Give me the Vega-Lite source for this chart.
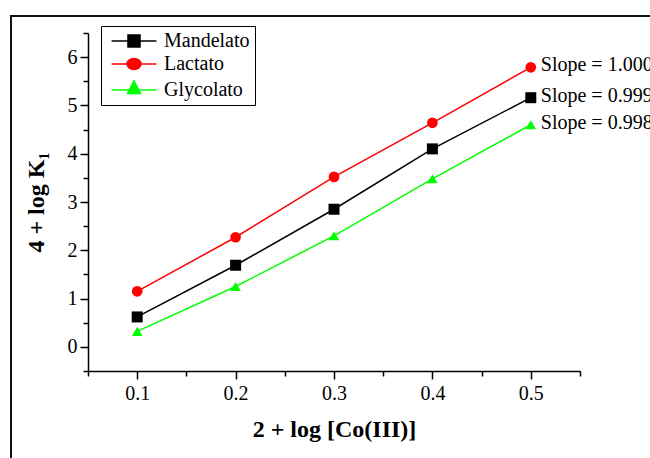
{
  "$schema": "https://vega.github.io/schema/vega-lite/v6.json",
  "width": 640,
  "height": 443,
  "autosize": {"type": "none"},
  "padding": {"left": 11, "top": 16, "right": 0, "bottom": 0},
  "background": "white",
  "config": {
    "view": {"stroke": "#111111", "strokeWidth": 2},
    "font": "Liberation Serif",
    "axis": {
      "domainColor": "black", "domainWidth": 1.5,
      "tickColor": "black", "tickWidth": 1.5,
      "labelColor": "black", "labelFont": "Liberation Serif", "labelFontSize": 20,
      "titleFont": "Liberation Serif", "titleColor": "black", "titleFontWeight": "bold", "titleFontSize": 24,
      "grid": false
    },
    "legend": {
      "orient": "none", "legendX": 90, "legendY": 10, "title": null,
      "strokeColor": "black", "fillColor": "white", "padding": 5,
      "labelFont": "Liberation Serif", "labelFontSize": 20, "labelColor": "black",
      "symbolSize": 196, "symbolOffset": 18, "labelOffset": 20, "rowPadding": 3, "symbolStrokeWidth": 1.5
    }
  },
  "data": {"values": [
    {"series": "Mandelato", "x": 0.1, "y": 0.62},
    {"series": "Mandelato", "x": 0.2, "y": 1.69},
    {"series": "Mandelato", "x": 0.3, "y": 2.85},
    {"series": "Mandelato", "x": 0.4, "y": 4.10},
    {"series": "Mandelato", "x": 0.5, "y": 5.16, "note": "Slope = 0.999"},
    {"series": "Lactato", "x": 0.1, "y": 1.15},
    {"series": "Lactato", "x": 0.2, "y": 2.27},
    {"series": "Lactato", "x": 0.3, "y": 3.52},
    {"series": "Lactato", "x": 0.4, "y": 4.64},
    {"series": "Lactato", "x": 0.5, "y": 5.79, "note": "Slope = 1.000"},
    {"series": "Glycolato", "x": 0.1, "y": 0.32},
    {"series": "Glycolato", "x": 0.2, "y": 1.25},
    {"series": "Glycolato", "x": 0.3, "y": 2.30},
    {"series": "Glycolato", "x": 0.4, "y": 3.48},
    {"series": "Glycolato", "x": 0.5, "y": 4.60, "note": "Slope = 0.998"}
  ]},
  "resolve": {"axis": {"x": "independent", "y": "independent"}},
  "layer": [
    {
      "mark": {"type": "line", "strokeWidth": 1.5},
      "encoding": {
        "x": {"field": "x", "type": "quantitative",
          "scale": {"domain": [0.05, 0.55], "range": [77, 569], "nice": false, "zero": false},
          "axis": {"orient": "bottom", "offset": -88, "values": [0.1, 0.2, 0.3, 0.4, 0.5], "format": ".1f",
            "tickSize": 8, "labelPadding": 4, "title": "2 + log [Co(III)]", "titlePadding": 14,
            "labelFlush": false, "labelOverlap": false}},
        "y": {"field": "y", "type": "quantitative",
          "scale": {"domain": [-0.5, 6.5], "range": [355, 17], "nice": false, "zero": false},
          "axis": {"orient": "left", "offset": -77, "values": [0, 1, 2, 3, 4, 5, 6], "format": "d",
            "tickSize": 8, "labelPadding": 3, "title": "4 + log K₁", "titlePadding": 19,
            "labelFlush": false, "labelOverlap": false}},
        "color": {"field": "series", "type": "nominal",
          "scale": {"domain": ["Mandelato", "Lactato", "Glycolato"], "range": ["#000000", "#ff0000", "#00ff00"]},
          "legend": {
            "encode": {"symbols": {"update": {"opacity": {"value": 1}, "fill": {"scale": "color", "field": "value"}, "stroke": {"scale": "color", "field": "value"}, "strokeWidth": {"value": 1.5}}}}}}
      }
    },
    {
      "transform": [{"filter": "datum.series == 'Mandelato'"}],
      "mark": {"type": "point", "shape": "square", "filled": true, "opacity": 1, "size": 121},
      "encoding": {
        "x": {"field": "x", "type": "quantitative",
          "axis": {"orient": "bottom", "offset": -88, "values": [0.05, 0.15, 0.25, 0.35, 0.45, 0.55],
            "tickSize": 5, "labels": false, "domain": false, "title": null}},
        "y": {"field": "y", "type": "quantitative",
          "axis": {"orient": "left", "offset": -77, "values": [-0.5, 0.5, 1.5, 2.5, 3.5, 4.5, 5.5, 6.5],
            "tickSize": 5, "labels": false, "domain": false, "title": null}},
        "color": {"field": "series", "type": "nominal"}
      }
    },
    {
      "transform": [{"filter": "datum.series == 'Lactato'"}],
      "mark": {"type": "point", "shape": "circle", "filled": true, "opacity": 1, "size": 115},
      "encoding": {
        "x": {"field": "x", "type": "quantitative", "axis": null},
        "y": {"field": "y", "type": "quantitative", "axis": null},
        "color": {"field": "series", "type": "nominal"}
      }
    },
    {
      "transform": [{"filter": "datum.series == 'Glycolato'"}],
      "mark": {"type": "point", "shape": "triangle-up", "filled": true, "opacity": 1, "size": 110},
      "encoding": {
        "x": {"field": "x", "type": "quantitative", "axis": null},
        "y": {"field": "y", "type": "quantitative", "axis": null},
        "color": {"field": "series", "type": "nominal"}
      }
    },
    {
      "transform": [{"filter": "isValid(datum.note)"}],
      "mark": {"type": "text", "align": "left", "baseline": "middle", "dx": 10, "dy": -2,
        "font": "Liberation Serif", "fontSize": 20, "color": "black"},
      "encoding": {
        "x": {"field": "x", "type": "quantitative", "axis": null},
        "y": {"field": "y", "type": "quantitative", "axis": null},
        "text": {"field": "note"}
      }
    },
    {
      "transform": [{"filter": "datum.x == 0.5"}],
      "mark": {"type": "point", "filled": true, "opacity": 0},
      "encoding": {
        "x": {"field": "x", "type": "quantitative", "axis": null},
        "y": {"field": "y", "type": "quantitative", "axis": null},
        "color": {"field": "series", "type": "nominal"},
        "shape": {"field": "series", "type": "nominal",
          "scale": {"domain": ["Mandelato", "Lactato", "Glycolato"],
            "range": [
              "M-3.2,0H3.2M-0.86,-0.86H0.86V0.86H-0.86Z",
              "M-3.2,0H3.2M-1,0A1,0.8,0,1,1,1,0A1,0.8,0,1,1,-1,0Z",
              "M-3.2,0H3.2M0,-1.3L0.93,0.5L-0.93,0.5Z"
            ]},
          "legend": {
            "encode": {"symbols": {"update": {"opacity": {"value": 1}, "fill": {"scale": "color", "field": "value"}, "stroke": {"scale": "color", "field": "value"}, "strokeWidth": {"value": 1.5}}}}}}
      }
    }
  ]
}
